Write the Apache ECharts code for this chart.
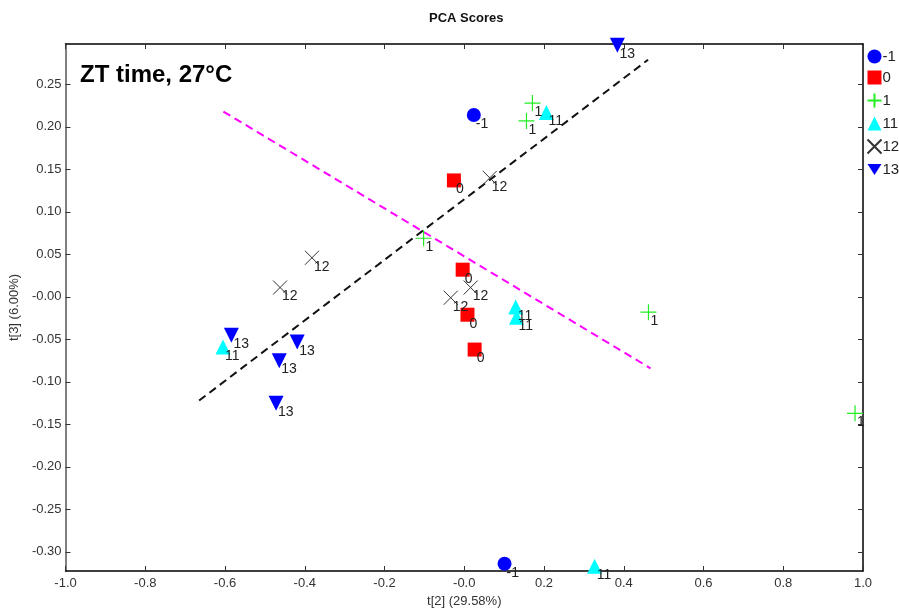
<!DOCTYPE html>
<html lang="en">
  <head>
    <meta charset="UTF-8" />
    <title>PCA Scores</title>
    <script src="https://cdn.jsdelivr.net/npm/echarts@6/dist/echarts.min.js"></script>
    <style>
      body {
        margin: 0;
        background: #fff;
      }
      #main {
        width: 899px;
        height: 614px;
      }
    </style>
  </head>
  <body>
    <div id="main"></div>
    <script>
      // group names (legend order)
      let groups = ["-1", "0", "1", "11", "12", "13"];

      // scores per group: [t[2], t[3]]
      let pointsM1 = [[0.024, 0.214], [0.101, -0.314]];
      let points0 = [[-0.026, 0.137], [-0.004, 0.032], [0.008, -0.021], [0.026, -0.062]];
      let points1 = [[0.171, 0.228], [0.156, 0.207], [-0.102, 0.069], [0.462, -0.018], [0.98, -0.137]];
      let points11 = [[0.206, 0.217], [0.129, -0.012], [0.131, -0.024], [-0.605, -0.059], [0.327, -0.317]];
      let points12 = [[0.064, 0.14], [-0.382, 0.046], [-0.462, 0.011], [-0.034, -0.001], [0.016, 0.011]];
      let points13 = [[0.384, 0.296], [-0.584, -0.045], [-0.419, -0.053], [-0.464, -0.075], [-0.472, -0.125]];

      // the two dashed lines
      let blackLine = [[-0.665, -0.122], [0.461, 0.279]];
      let pinkLine = [[-0.604, 0.218], [0.467, -0.084]];

      let xTicks = [-1.0, -0.8, -0.6, -0.4, -0.2, 0.0, 0.2, 0.4, 0.6, 0.8, 1.0];
      let yTicks = [0.25, 0.2, 0.15, 0.1, 0.05, 0.0, -0.05, -0.1, -0.15, -0.2, -0.25, -0.3];
      let yMin = -0.3225,
        yMax = 0.2975;

      let font = "Liberation Sans";

      function pointLabel(name) {
        return {
          show: true,
          position: "inside",
          align: "left",
          verticalAlign: "top",
          offset: [2, 2],
          formatter: name,
          color: "#222",
          fontFamily: font,
          fontSize: 14,
        };
      }

      function scatter(name, data, symbol, size, style) {
        style.opacity = 1;
        return {
          name: name,
          type: "scatter",
          data: data,
          symbol: symbol,
          symbolSize: size,
          itemStyle: style,
          label: pointLabel(name),
          clip: false,
          z: 3,
        };
      }

      function dashLine(data, color) {
        return {
          type: "line",
          data: data,
          symbol: "none",
          silent: true,
          lineStyle: { color: color, width: 2, type: [8, 5] },
          z: 2,
        };
      }

      function fmtX(v) {
        if (Math.abs(v) < 1e-9) return "-0.0";
        return v.toFixed(1);
      }
      function fmtY(v) {
        if (Math.abs(v) < 1e-9) return "-0.00";
        return v.toFixed(2);
      }

      let axisText = { color: "#333", fontFamily: font, fontSize: 13 };
      let tickStyle = { show: true, inside: true, length: 5, lineStyle: { color: "#333" } };

      function xAxisOf(pos, withLabels) {
        return {
          type: "value",
          position: pos,
          min: xTicks[0],
          max: xTicks[xTicks.length - 1],
          name: withLabels ? "t[2] (29.58%)" : "",
          nameLocation: "middle",
          nameGap: 23,
          nameTextStyle: axisText,
          axisLine: { show: true, onZero: false, lineStyle: { color: "#000", width: 1.5 } },
          axisTick: Object.assign({ customValues: xTicks }, tickStyle),
          axisLabel: Object.assign(
            { show: withLabels, customValues: xTicks, formatter: fmtX, margin: 6 },
            axisText
          ),
          splitLine: { show: false },
        };
      }

      function yAxisOf(pos, withLabels) {
        return {
          type: "value",
          position: pos,
          min: yMin,
          max: yMax,
          name: withLabels ? "t[3] (6.00%)" : "",
          nameLocation: "middle",
          nameGap: 44,
          nameTextStyle: axisText,
          axisLine: {
            show: true,
            onZero: false,
            lineStyle: { color: withLabels ? "#555" : "#000", width: 1.5 },
          },
          axisTick: Object.assign({ customValues: yTicks }, tickStyle),
          axisLabel: Object.assign(
            { show: withLabels, customValues: yTicks, formatter: fmtY, margin: 4 },
            axisText
          ),
          splitLine: { show: false },
        };
      }

      let myChart = echarts.init(document.getElementById("main"));
      let option = {
        animation: false,
        backgroundColor: "#fff",
        grid: { left: 64, right: 36, top: 44, bottom: 43 },
        legend: {
          data: groups,
          orient: "vertical",
          left: 865,
          top: 49,
          padding: 0,
          itemWidth: 14,
          itemHeight: 14,
          itemGap: 6,
          textStyle: {
            color: "#222",
            fontFamily: font,
            fontSize: 15,
            padding: [0, 0, 0, -4],
          },
        },
        graphic: [
          {
            type: "text",
            left: 429,
            top: 12,
            style: { text: "PCA Scores", font: "bold 13px " + font, fill: "#111" },
          },
          {
            type: "text",
            left: 80,
            top: 63,
            style: { text: "ZT time, 27°C", font: "bold 24px " + font, fill: "#000" },
          },
        ],
        xAxis: [xAxisOf("bottom", true), xAxisOf("top", false)],
        yAxis: [yAxisOf("left", true), yAxisOf("right", false)],
        series: [
          dashLine(blackLine, "#111"),
          dashLine(pinkLine, "#ff00ff"),
          scatter(groups[0], pointsM1, "circle", 14, { color: "#0000ff" }),
          scatter(groups[1], points0, "rect", 14, { color: "#ff0000" }),
          scatter(groups[2], points1, "path://M0,5L10,5M5,0L5,10", 16, {
            color: "none",
            borderColor: "#22ee22",
            borderWidth: 1.2,
          }),
          scatter(groups[3], points11, "triangle", 15, { color: "#00ffff" }),
          scatter(groups[4], points12, "path://M0,0L10,10M10,0L0,10", 14, {
            color: "none",
            borderColor: "#333",
            borderWidth: 1,
          }),
          scatter(groups[5], points13, "path://M0,0L10,0L5,8Z", 15, { color: "#0000ff" }),
        ],
      };
      myChart.setOption(option);
    </script>
  </body>
</html>
